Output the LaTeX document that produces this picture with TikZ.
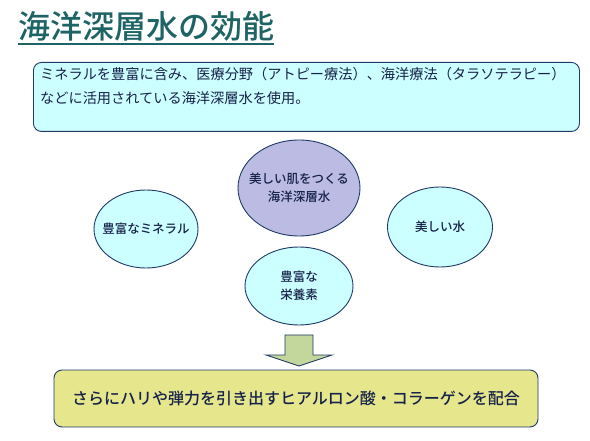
\documentclass[tikz,border=0pt]{standalone}
\usepackage{fontspec}
\setmainfont{Noto Sans CJK JP}
\newfontfamily\midfont{Noto Sans CJK JP}[UprightFont=* Medium]
\usetikzlibrary{shapes.geometric}

\definecolor{titleteal}{HTML}{1F6464}
\definecolor{edgeblue}{HTML}{1F3A68}
\definecolor{paleaqua}{HTML}{CCFFFF}
\definecolor{lavender}{HTML}{BBBBE3}
\definecolor{olivegreen}{HTML}{C3D69B}
\definecolor{paleyellow}{HTML}{E6E68C}
\definecolor{inkblue}{HTML}{16224A}

\begin{document}
\begin{tikzpicture}[x=1pt,y=-1pt,
  bubble/.style={ellipse,draw=edgeblue,line width=0.9pt,fill=paleaqua,text=inkblue,
    font=\fontsize{12.5}{18}\selectfont\midfont,align=center,inner xsep=-10pt,inner ysep=0pt},
  panel/.style={draw=edgeblue,line width=0.9pt,rounded corners=8pt}]
\path (0,0) rectangle (590,441);
% title
\node[anchor=base west,inner sep=0pt,text=titleteal,font=\fontsize{32}{36}\selectfont\midfont] (title) at (18,39) {海洋深層水の効能};
\draw[titleteal,line width=2pt] ([yshift=-5pt]title.base west) -- ([yshift=-5pt]title.base east);
% top box
\node[panel,fill=paleaqua,anchor=north west,minimum width=546,minimum height=69] (intro) at (33,62) {};
\node[anchor=north west,inner sep=0pt,align=left,text=inkblue,font=\fontsize{14.2}{24}\selectfont] (introtext) at ([shift={(7,5)}]intro.north west)
  {ミネラルを豊富に含み、医療分野（アトピー療法）、海洋療法（タラソテラピー）\\などに活用されている海洋深層水を使用。};
% ellipses
\node[bubble,fill=lavender,minimum width=122,minimum height=96] (beauty) at (299,188) {美しい肌をつくる\\海洋深層水};
\node[bubble,minimum width=104,minimum height=78] (mineral) at (146,229) {豊富なミネラル};
\node[bubble,minimum width=108,minimum height=78] (nutrient) at (299,286) {豊富な\\栄養素};
\node[bubble,minimum width=105,minimum height=80] (water) at (440,227) {美しい水};
% arrow
\coordinate (arrowtop) at (299,335);
\draw[edgeblue,fill=olivegreen,line width=0.9pt] (arrowtop) ++(-14,0) -- ++(28,0) -- ++(0,20) -- ++(19,0) -- ++(-33,11) -- ++(-33,-11) -- ++(19,0) -- cycle;
% bottom box
\node[panel,fill=paleyellow,minimum width=484,minimum height=57,text=inkblue,font=\fontsize{16}{20}\selectfont\midfont] (result) at (296,398.5)
  {さらにハリや弾力を引き出すヒアルロン酸・コラーゲンを配合};
\end{tikzpicture}
\end{document}
